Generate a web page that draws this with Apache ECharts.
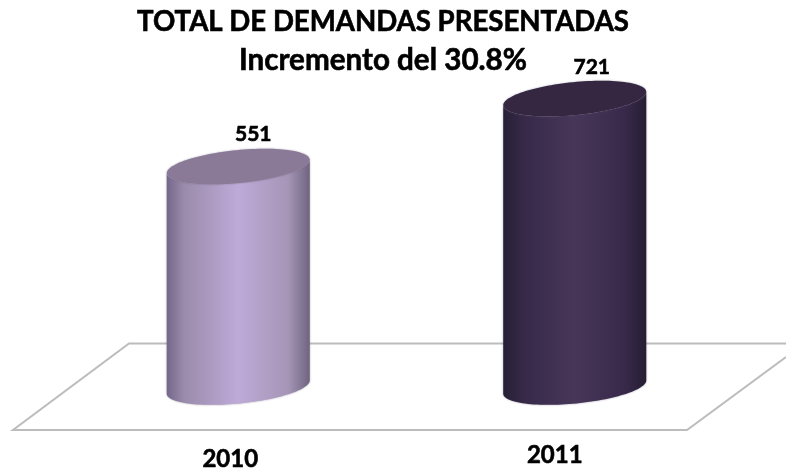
<!DOCTYPE html>
<html>
<head>
<meta charset="utf-8">
<style>
    html, body { margin: 0; padding: 0; background: #fff; }
    #main { width: 786px; height: 470px; }
</style>
<script src="https://cdn.jsdelivr.net/npm/echarts@6/dist/echarts.min.js"></script>
</head>
<body>
<div id="main"></div>
<script>
    var categories = ['2010', '2011'];
    var totals = [551, 721];
    var titleLines = ['TOTAL DE DEMANDAS PRESENTADAS', 'Incremento del 30.8%'];

    // lado y tapa de cada cilindro
    var bodyStops = [
        [[0, '#75678a'], [0.12, '#9a8bab'], [0.5, '#bfaad8'], [0.85, '#a595b6'], [1, '#6f6480']],
        [[0, '#271f36'], [0.15, '#372a49'], [0.5, '#473659'], [0.85, '#38294a'], [1, '#261d33']]
    ];
    var capColors = ['#8a7a97', '#352742'];
    var labelOffsets = [[15, -32], [17, -31]];
    var catOffsets = [[-8, 72], [-20, 68]];

    var cylWidth = 143, ryCap = 16.5, tilt = -5.6 * Math.PI / 180;

    // punto de una elipse inclinada, t en radianes
    function ellipsePoint(cx, cy, t) {
        var a = (cylWidth / 2) / Math.cos(tilt) * Math.cos(t);
        var b = ryCap * Math.sin(t);
        return [cx + a * Math.cos(tilt) - b * Math.sin(tilt), cy + a * Math.sin(tilt) + b * Math.cos(tilt)];
    }

    function renderCylinder(params, api) {
        var i = params.dataIndex;
        var top = api.coord([api.value(0), api.value(1)]);
        var base = api.coord([api.value(0), 0]);
        var side = [], cap = [], k;
        // arco inferior de la base, de izquierda a derecha
        for (k = 0; k <= 60; k++) side.push(ellipsePoint(base[0], base[1], Math.PI - Math.PI * k / 60));
        // arco inferior de la tapa, de derecha a izquierda (lo tapa la elipse)
        for (k = 0; k <= 60; k++) side.push(ellipsePoint(top[0], top[1], Math.PI * k / 60));
        for (k = 0; k < 120; k++) cap.push(ellipsePoint(top[0], top[1], 2 * Math.PI * k / 120));

        var stops = bodyStops[i].map(function (s) { return { offset: s[0], color: s[1] }; });
        return {
            type: 'group',
            children: [
                {
                    type: 'polygon',
                    shape: { points: side },
                    style: {
                        fill: new echarts.graphic.LinearGradient(0, 0, 1, 0, stops),
                        shadowBlur: 2,
                        shadowColor: 'rgba(90,80,110,0.6)'
                    }
                },
                {
                    type: 'polygon',
                    shape: { points: cap },
                    style: { fill: capColors[i], shadowBlur: 2, shadowColor: 'rgba(90,80,110,0.5)' }
                },
                {
                    type: 'text',
                    style: {
                        x: top[0] + labelOffsets[i][0],
                        y: top[1] + labelOffsets[i][1],
                        text: String(api.value(1)),
                        align: 'center',
                        verticalAlign: 'middle',
                        fill: '#000',
                        stroke: '#000',
                        lineWidth: 0.6,
                        font: 'bold 21px Lato'
                    }
                },
                {
                    type: 'text',
                    style: {
                        x: base[0] + catOffsets[i][0],
                        y: base[1] + catOffsets[i][1],
                        text: categories[i],
                        align: 'center',
                        verticalAlign: 'middle',
                        fill: '#000',
                        stroke: '#000',
                        lineWidth: 0.6,
                        font: 'bold 24px Lato'
                    }
                }
            ]
        };
    }

    var chart = echarts.init(document.getElementById('main'));
    chart.setOption({
        animation: false,
        backgroundColor: '#fff',
        title: {
            text: '{a|' + titleLines[0] + '}\n{b|' + titleLines[1] + '}',
            left: 383,
            top: 0,
            padding: [3, 0, 0, 0],
            textAlign: 'center',
            textStyle: {
                rich: {
                    a: { fontFamily: 'Lato', fontWeight: 'bold', fontSize: 27.6, lineHeight: 38, color: '#000', textBorderColor: '#000', textBorderWidth: 0.6 },
                    b: { fontFamily: 'Lato', fontWeight: 'bold', fontSize: 29.6, lineHeight: 39, color: '#000', textBorderColor: '#000', textBorderWidth: 0.6 }
                }
            }
        },
        grid: { left: 70, top: 27, width: 673, height: 360 },
        xAxis: { type: 'category', data: categories, show: false },
        yAxis: { type: 'value', min: 0, max: 900, show: false },
        // plataforma del fondo
        graphic: [
            {
                type: 'polyline',
                z: 0,
                shape: { points: [[786, 343.5], [129, 343.5], [13, 430], [687, 430], [786, 357]] },
                style: { fill: null, stroke: '#bcbcbc', lineWidth: 2 }
            }
        ],
        series: [{
            type: 'custom',
            z: 5,
            renderItem: renderCylinder,
            encode: { x: 0, y: 1 },
            data: categories.map(function (c, i) { return [i, totals[i]]; })
        }]
    });
</script>
</body>
</html>
